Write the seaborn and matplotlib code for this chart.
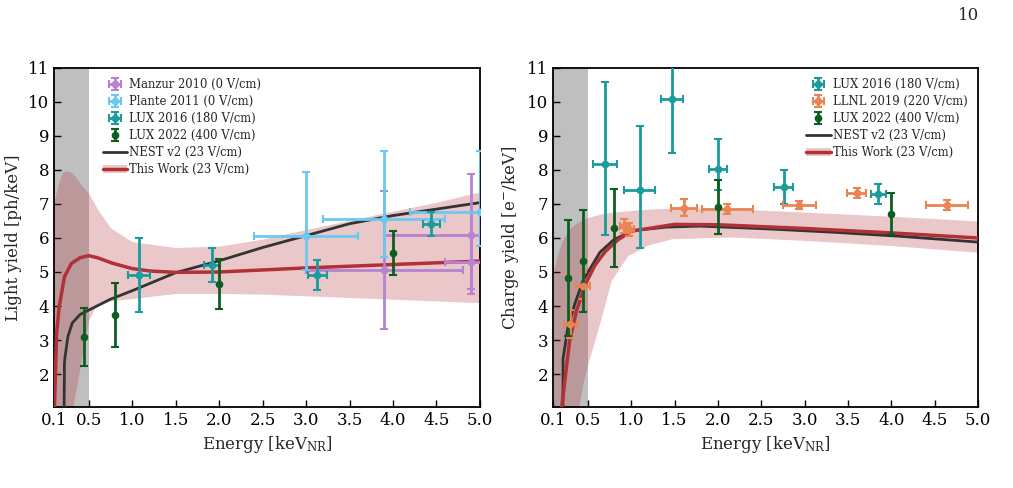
import matplotlib
matplotlib.use('Agg')
import matplotlib.pyplot as plt
import seaborn as sns
import numpy as np
from matplotlib.patches import Patch
from matplotlib.lines import Line2D

sns.set_style('ticks')
plt.rcParams['font.family'] = ['DejaVu Serif']
plt.rcParams['mathtext.fontset'] = 'dejavuserif'

# ---- light yield panel data ----
manzur_E = [3.9, 4.9, 4.9]
manzur_LY = [5.07, 6.1, 5.3]
manzur_xerr = [0.9, 1.0, 0.3]
manzur_ylo = [1.75, 1.75, 0.8]
manzur_yhi = [2.3, 1.77, 0.8]

plante_E = [3.0, 3.9, 5.0]
plante_LY = [6.07, 6.55, 6.77]
plante_xerr = [0.6, 0.7, 0.8]
plante_ylo = [1.0, 1.1, 1.0]
plante_yhi = [1.86, 2.0, 1.8]

lux16_E_ly = [1.08, 1.92, 3.13, 4.44]
lux16_LY = [4.91, 5.22, 4.91, 6.41]
lux16_xerr_ly = [0.13, 0.09, 0.11, 0.1]
lux16_yerr_ly = [1.1, 0.5, 0.45, 0.35]

lux22_E_ly = [0.45, 0.8, 2.0, 4.0]
lux22_LY = [3.08, 3.73, 4.65, 5.55]
lux22_yerr_ly = [0.85, 0.95, 0.73, 0.65]

nest_E_ly = [0.215, 0.22, 0.227, 0.26, 0.31, 0.4, 0.5, 0.75, 1.0, 1.5, 2.0, 2.5, 3.0, 3.5, 4.0, 4.5, 5.0]
nest_LY = [0.5, 2.3, 2.5, 3.1, 3.5, 3.75, 3.88, 4.2, 4.45, 4.98, 5.33, 5.72, 6.07, 6.42, 6.66, 6.85, 7.04]

tw_E_ly = [0.1, 0.105, 0.13, 0.16, 0.22, 0.3, 0.4, 0.5, 0.6, 0.77, 1.0, 1.2, 1.5, 2.0, 3.0, 4.0, 5.0]
tw_LY = [0.5, 1.0, 3.2, 3.98, 4.86, 5.25, 5.42, 5.48, 5.42, 5.26, 5.1, 5.03, 4.99, 5.0, 5.12, 5.22, 5.32]

band_E_ly = [0.1, 0.15, 0.2, 0.25, 0.3, 0.35, 0.4, 0.45, 0.5, 0.6, 0.75, 1.0, 1.5, 2.0, 2.5, 3.0, 3.5, 4.0, 4.5, 5.0]
band_lo_ly = [0.5, 0.5, 0.5, 0.5, 0.8, 1.5, 2.2, 2.9, 3.6, 4.08, 4.15, 4.22, 4.37, 4.37, 4.35, 4.3, 4.25, 4.2, 4.15, 4.1]
band_hi_ly = [7.07, 7.6, 7.95, 7.97, 7.93, 7.8, 7.6, 7.45, 7.31, 6.85, 6.3, 5.89, 5.72, 5.76, 5.97, 6.25, 6.52, 6.79, 7.05, 7.36]

# ---- charge yield panel data ----
lux16_E_cy = [0.70, 1.10, 1.47, 2.0, 2.76, 3.85]
lux16_CY = [8.19, 7.40, 10.09, 8.02, 7.50, 7.30]
lux16_xerr_cy = [0.14, 0.18, 0.13, 0.1, 0.11, 0.09]
lux16_ylo_cy = [2.1, 1.7, 1.6, 0.6, 0.5, 0.3]
lux16_yhi_cy = [2.4, 1.9, 1.6, 0.9, 0.5, 0.3]

llnl_E = [0.30, 0.446, 0.92, 0.98, 1.61, 2.11, 2.94, 3.60, 4.64]
llnl_CY = [3.47, 4.60, 6.35, 6.25, 6.89, 6.86, 6.96, 7.33, 6.96]
llnl_xerr = [0.07, 0.085, 0.05, 0.05, 0.15, 0.29, 0.19, 0.11, 0.24]
llnl_yerr = [0.4, 0.4, 0.2, 0.2, 0.25, 0.15, 0.12, 0.15, 0.15]

lux22_E_cy = [0.273, 0.45, 0.80, 2.0, 4.0]
lux22_CY = [4.83, 5.33, 6.30, 6.91, 6.72]
lux22_yerr_cy = [1.7, 1.5, 1.15, 0.8, 0.6]

nest_E_cy = [0.213, 0.215, 0.27, 0.35, 0.446, 0.56, 0.64, 0.8, 1.02, 1.41, 1.79, 2.56, 3.33, 4.1, 5.0]
nest_CY = [0.5, 2.45, 3.37, 4.06, 4.75, 5.24, 5.58, 5.95, 6.22, 6.32, 6.35, 6.27, 6.17, 6.05, 5.88]

tw_E_cy = [0.19, 0.2, 0.29, 0.37, 0.466, 0.58, 0.7, 0.85, 1.0, 1.5, 2.0, 3.0, 4.0, 5.0]
tw_CY = [0.5, 1.05, 2.97, 3.86, 4.6, 5.19, 5.6, 5.95, 6.2, 6.4, 6.39, 6.28, 6.15, 6.0]

band_E_cy = [0.1, 0.15, 0.2, 0.3, 0.38, 0.45, 0.5, 0.64, 0.77, 0.96, 1.2, 1.47, 2.16, 3.0, 4.0, 5.0]
band_hi_cy = [5.0, 5.5, 5.9, 6.3, 6.45, 6.55, 6.6, 6.7, 6.76, 6.8, 6.85, 6.88, 6.86, 6.76, 6.64, 6.5]
band_lo_cy = [0.5, 0.5, 0.5, 0.5, 0.8, 1.8, 2.29, 3.52, 4.75, 5.48, 5.8, 5.98, 6.03, 5.93, 5.78, 5.58]

xticks = [0.1, 0.5, 1.0, 1.5, 2.0, 2.5, 3.0, 3.5, 4.0, 4.5, 5.0]
yticks = [2, 3, 4, 5, 6, 7, 8, 9, 10, 11]

c_manzur = '#b583d1'
c_plante = '#69c9f0'
c_lux16 = '#1a9b9c'
c_lux22 = '#0c5e20'
c_llnl = '#ea8452'
c_red = '#b23038'
c_nest = '#333333'

fig = plt.figure(figsize=(10.13, 4.88), dpi=100)
ax1 = fig.add_axes([0.0533, 0.166, 0.4205, 0.6947])
ax2 = fig.add_axes([0.546, 0.166, 0.4195, 0.6947])

eb_kw = dict(fmt='o', markersize=4.5, elinewidth=2, capsize=3, capthick=1.5, zorder=5)


def base_panel(ax, band_E, band_lo, band_hi, nest_E, nest_y, tw_E, tw_y):
    ax.axvspan(0.1, 0.5, color='gray', alpha=0.5, lw=0, zorder=0)
    ax.fill_between(band_E, band_lo, band_hi, color=c_red, alpha=0.27, lw=0, zorder=1)
    sns.lineplot(x=nest_E, y=nest_y, ax=ax, color=c_nest, lw=2, sort=False, zorder=3)
    sns.lineplot(x=tw_E, y=tw_y, ax=ax, color=c_red, lw=2.5, sort=False, zorder=4)
    ax.set_xlim(0.1, 5.0)
    ax.set_ylim(1.03, 11)
    ax.set_xticks(xticks)
    ax.set_xticklabels([f'{t:.1f}' for t in xticks])
    ax.set_yticks(yticks)
    ax.tick_params(direction='in', labelsize=12, length=5, width=1, colors='black')
    for s in ax.spines.values():
        s.set_linewidth(1.3)
        s.set_color('black')
    ax.set_xlabel(r'Energy [keV$_{\mathrm{NR}}$]', fontsize=12)


base_panel(ax1, band_E_ly, band_lo_ly, band_hi_ly, nest_E_ly, nest_LY, tw_E_ly, tw_LY)
h_manzur = ax1.errorbar(manzur_E, manzur_LY, xerr=manzur_xerr, yerr=[manzur_ylo, manzur_yhi],
                        color=c_manzur, **eb_kw)
h_plante = ax1.errorbar(plante_E, plante_LY, xerr=plante_xerr, yerr=[plante_ylo, plante_yhi],
                        color=c_plante, **eb_kw)
h_lux16 = ax1.errorbar(lux16_E_ly, lux16_LY, xerr=lux16_xerr_ly, yerr=lux16_yerr_ly,
                       color=c_lux16, **eb_kw)
h_lux22 = ax1.errorbar(lux22_E_ly, lux22_LY, yerr=lux22_yerr_ly, color=c_lux22, **eb_kw)
ax1.set_ylabel('Light yield [ph/keV]', fontsize=12)

h_nest = Line2D([], [], color=c_nest, lw=2)
h_tw = (Patch(facecolor=c_red, alpha=0.27, lw=0), Line2D([], [], color=c_red, lw=2.5))

leg_kw = dict(frameon=False, fontsize=8.4, handlelength=2.1, handletextpad=0.2,
              labelspacing=0.35, borderaxespad=0.3)
ax1.legend([h_manzur, h_plante, h_lux16, h_lux22, h_nest, h_tw],
           ['Manzur 2010 (0 V/cm)', 'Plante 2011 (0 V/cm)', 'LUX 2016 (180 V/cm)',
            'LUX 2022 (400 V/cm)', 'NEST v2 (23 V/cm)', 'This Work (23 V/cm)'],
           loc='upper left', bbox_to_anchor=(0.095, 0.995), **leg_kw)

base_panel(ax2, band_E_cy, band_lo_cy, band_hi_cy, nest_E_cy, nest_CY, tw_E_cy, tw_CY)
g_lux16 = ax2.errorbar(lux16_E_cy, lux16_CY, xerr=lux16_xerr_cy, yerr=[lux16_ylo_cy, lux16_yhi_cy],
                       color=c_lux16, **eb_kw)
g_llnl = ax2.errorbar(llnl_E, llnl_CY, xerr=llnl_xerr, yerr=llnl_yerr, color=c_llnl, **eb_kw)
g_lux22 = ax2.errorbar(lux22_E_cy, lux22_CY, yerr=lux22_yerr_cy, color=c_lux22, **eb_kw)
ax2.set_ylabel(r'Charge yield [e$^{-}$/keV]', fontsize=12)
ax2.legend([g_lux16, g_llnl, g_lux22, h_nest, h_tw],
           ['LUX 2016 (180 V/cm)', 'LLNL 2019 (220 V/cm)', 'LUX 2022 (400 V/cm)',
            'NEST v2 (23 V/cm)', 'This Work (23 V/cm)'],
           loc='upper right', bbox_to_anchor=(0.995, 0.995), **leg_kw)

fig.text(0.967, 0.968, '10', ha='right', va='center', fontsize=12)

fig.savefig('out.png', dpi=100)
